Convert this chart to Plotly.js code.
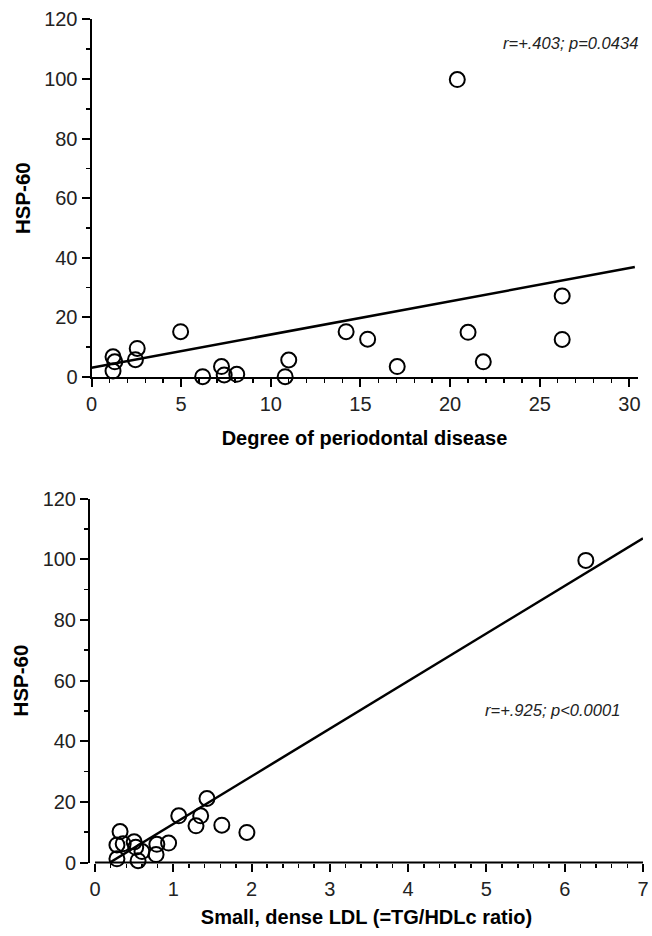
<!DOCTYPE html>
<html>
<head>
<meta charset="utf-8">
<script src="https://cdn.plot.ly/plotly-3.0.1.min.js"></script>
<style>html,body{margin:0;padding:0;background:#fff;}#chart{width:652px;height:936px;}</style>
</head>
<body>
<div id="chart"></div>
<script>
// Top panel: degree of periodontal disease vs HSP-60
var perioX = [1.2, 1.3, 1.2, 2.55, 2.45, 4.97, 6.2, 7.25, 7.4, 8.1, 10.8, 11.0, 14.2, 15.4, 17.05, 20.4, 21.0, 21.85, 26.25, 26.25];
var perioY = [6.8, 5.1, 2.0, 9.6, 5.8, 15.2, 0.1, 3.5, 0.7, 0.9, 0.1, 5.7, 15.2, 12.7, 3.5, 99.8, 15.0, 5.1, 27.2, 12.6];
var perioFitX = [0, 30.3];
var perioFitY = [3.1, 36.9];
var perioStat = "r=+.403; p=0.0434";

// Bottom panel: small dense LDL vs HSP-60
var ldlX = [0.32, 0.28, 0.36, 0.28, 0.50, 0.52, 0.60, 0.55, 0.79, 0.78, 0.94, 1.07, 1.35, 1.43, 1.29, 1.62, 1.94, 6.27];
var ldlY = [10.2, 5.8, 6.2, 1.2, 6.8, 5.0, 3.6, 0.6, 6.0, 2.6, 6.4, 15.4, 15.4, 21.1, 12.1, 12.3, 9.9, 99.6];
var ldlFitX = [0.19, 7];
var ldlFitY = [0, 106.9];
var ldlStat = "r=+.925; p<0.0001";

var yTitle = "HSP-60";
var xTitleTop = "Degree of periodontal disease";
var xTitleBottom = "Small, dense LDL (=TG/HDLc ratio)";

var W = 652, H = 936;
function px(x){ return x / W; }
function py(y){ return (H - y) / H; }

var FONT = "Liberation Sans, Arial, Helvetica, sans-serif";
var marker = {symbol: "circle-open", size: 15, color: "#000", line: {width: 2, color: "#000"}};

var traces = [
  {x: perioFitX, y: perioFitY, mode: "lines", line: {color: "#000", width: 2.5}, xaxis: "x", yaxis: "y", hoverinfo: "skip", cliponaxis: false},
  {x: perioX, y: perioY, mode: "markers", marker: marker, xaxis: "x", yaxis: "y", cliponaxis: false},
  {x: ldlFitX, y: ldlFitY, mode: "lines", line: {color: "#000", width: 2.5}, xaxis: "x2", yaxis: "y2", hoverinfo: "skip", cliponaxis: false},
  {x: ldlX, y: ldlY, mode: "markers", marker: marker, xaxis: "x2", yaxis: "y2", cliponaxis: false}
];

function axisBase(){
  return {
    showgrid: false, zeroline: false, showline: true, linecolor: "#000", linewidth: 2,
    ticks: "outside", ticklen: 8, tickwidth: 2, tickcolor: "#000",
    tickfont: {family: FONT, size: 20, color: "#222"},
    fixedrange: true
  };
}

var xa = Object.assign(axisBase(), {
  domain: [px(91.5), px(637.5)], range: [0, 30.45], tick0: 0, dtick: 5, anchor: "y",
  minor: {dtick: 1, tick0: 0, ticks: "outside", ticklen: 4, tickwidth: 1.5, tickcolor: "#000", showgrid: false},
  title: {text: xTitleTop, font: {family: FONT, size: 20, color: "#000", weight: "bold"}, standoff: 17}
});
var ya = Object.assign(axisBase(), {
  domain: [py(377), py(19.4)], range: [0, 120], tick0: 0, dtick: 20, anchor: "x",
  minor: {dtick: 10, tick0: 0, ticks: "outside", ticklen: 4, tickwidth: 1.5, tickcolor: "#000", showgrid: false},
  title: {text: yTitle, font: {family: FONT, size: 20.5, color: "#000", weight: "bold"}, standoff: 8}
});
var xa2 = Object.assign(axisBase(), {
  domain: [px(90), px(643)], range: [-0.064, 7.0], tick0: 0, dtick: 1, anchor: "y2", showline: false,
  minor: {dtick: 0.2, tick0: 0, ticks: "outside", ticklen: 4, tickwidth: 1.5, tickcolor: "#000", showgrid: false},
  title: {text: xTitleBottom, font: {family: FONT, size: 20, color: "#000", weight: "bold"}, standoff: 11}
});
var ya2 = Object.assign(axisBase(), {
  domain: [py(862.5), py(498.5)], range: [0, 120], tick0: 0, dtick: 20, anchor: "x2",
  minor: {dtick: 10, tick0: 0, ticks: "outside", ticklen: 4, tickwidth: 1.5, tickcolor: "#000", showgrid: false},
  title: {text: yTitle, font: {family: FONT, size: 20.5, color: "#000", weight: "bold"}, standoff: 8}
});

var layout = {
  width: W, height: H,
  margin: {l: 0, r: 0, t: 0, b: 0},
  paper_bgcolor: "#fff", plot_bgcolor: "#fff",
  showlegend: false,
  xaxis: xa, yaxis: ya, xaxis2: xa2, yaxis2: ya2,
  shapes: [
    {type: "line", xref: "x2", yref: "y2 domain", x0: 0, x1: 7.0, y0: 0, y1: 0, line: {color: "#000", width: 2}}
  ],
  annotations: [
    {text: perioStat, xref: "paper", yref: "paper", x: px(640), y: py(43), xanchor: "right", yanchor: "middle", showarrow: false,
     font: {family: FONT, size: 16.5, color: "#222", style: "italic"}},
    {text: ldlStat, xref: "paper", yref: "paper", x: px(622), y: py(710), xanchor: "right", yanchor: "middle", showarrow: false,
     font: {family: FONT, size: 16.5, color: "#222", style: "italic"}}
  ]
};

Plotly.newPlot("chart", traces, layout, {displayModeBar: false, staticPlot: true});
</script>
</body>
</html>
